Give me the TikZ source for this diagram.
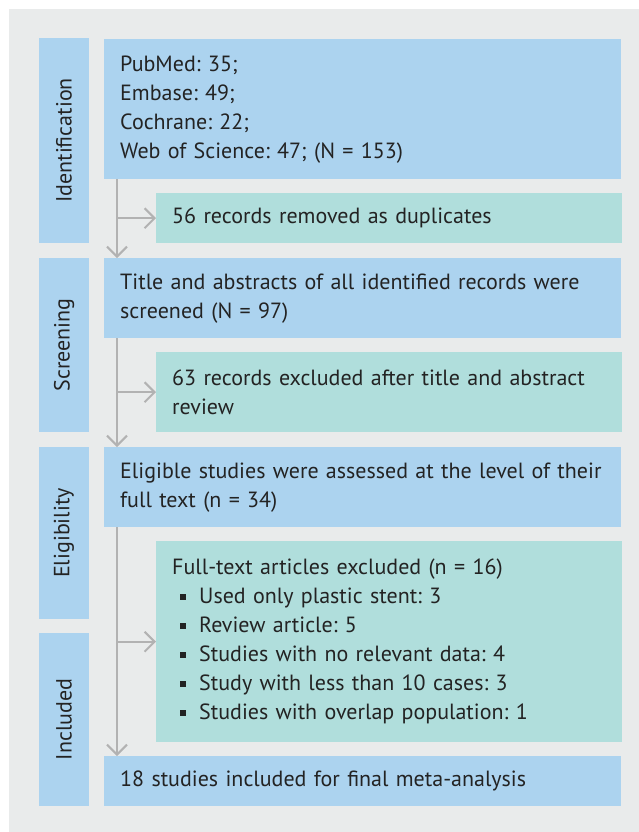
\documentclass[tikz,border=0pt]{standalone}
\usepackage{fontspec}
\setmainfont{PT Sans}
\usetikzlibrary{arrows.meta, positioning}
\frenchspacing

\definecolor{bggray}{RGB}{233,235,235}
\definecolor{boxblue}{RGB}{172,211,239}
\definecolor{boxgreen}{RGB}{176,222,220}
\definecolor{flowgray}{RGB}{178,178,178}
\definecolor{txtdark}{RGB}{35,35,35}

\newcommand{\exitem}[1]{\hspace*{8pt}\rule[4pt]{6pt}{6pt}\hspace{13pt}#1}

\begin{document}
\begin{tikzpicture}[x=1pt, y=-1pt, >={Straight Barb[length=10pt,width=20pt]},
  every node/.style={font=\fontsize{22}{29}\selectfont, text=txtdark},
  stagebox/.style={fill=boxblue, minimum height=50pt, inner sep=0pt, rotate=90},
  mainbox/.style={fill=boxblue, anchor=north west, text width=485pt, inner xsep=16pt, inner ysep=0pt, align=left},
  exbox/.style={fill=boxgreen, anchor=north west, text width=434pt, inner xsep=16pt, inner ysep=0pt, align=left},
  flow/.style={draw=flowgray, line width=2pt}]
  \useasboundingbox (0,0) rectangle (639,832);
  \fill [bggray] (9,9) rectangle (639,832);
  % stages
  \node [stagebox, minimum width=205pt] (sident) at (64,140.5) {Identification};
  \node [stagebox, minimum width=174pt] (sscreen) at (64,345) {Screening};
  \node [stagebox, minimum width=172pt] (selig) at (64,533) {Eligibility};
  \node [stagebox, minimum width=173pt] (sincl) at (64,719.5) {Included};
  % boxes
  \node [mainbox, minimum height=140pt] (ident) at (104,39) {PubMed: 35;\\Embase: 49;\\Cochrane: 22;\\Web of Science: 47; (N = 153)};
  \node [exbox, minimum height=50pt] (dupl) at (156,193) {56 records removed as duplicates};
  \node [mainbox, minimum height=80pt] (screen) at (104,258) {Title and abstracts of all identified records were\\screened (N = 97)};
  \node [exbox, minimum height=80pt] (exscreen) at (156,352) {63 records excluded after title and abstract\\review};
  \node [mainbox, minimum height=80pt] (elig) at (104,447) {Eligible studies were assessed at the level of their\\full text (n = 34)};
  \node [exbox, minimum height=201pt] (exfull) at (156,541) {Full-text articles excluded (n = 16)\\
    \exitem{Used only plastic stent: 3}\\
    \exitem{Review article: 5}\\
    \exitem{Studies with no relevant data: 4}\\
    \exitem{Study with less than 10 cases: 3}\\
    \exitem{Studies with overlap population: 1}};
  \node [mainbox, minimum height=50pt] (incl) at (104,756) {18 studies included for final meta-analysis};
  % connectors
  \draw [flow, ->] ([xshift=13pt]ident.south west) -- ([xshift=13pt]screen.north west);
  \draw [flow, ->] ([xshift=13pt]ident.south west |- dupl.west) -- (dupl.west);
  \draw [flow, ->] ([xshift=13pt]screen.south west) -- ([xshift=13pt]elig.north west);
  \draw [flow, ->] ([xshift=13pt]screen.south west |- exscreen.west) -- (exscreen.west);
  \draw [flow, ->] ([xshift=13pt]elig.south west) -- ([xshift=13pt]incl.north west);
  \draw [flow, ->] ([xshift=13pt]elig.south west |- exfull.west) -- (exfull.west);
\end{tikzpicture}
\end{document}
